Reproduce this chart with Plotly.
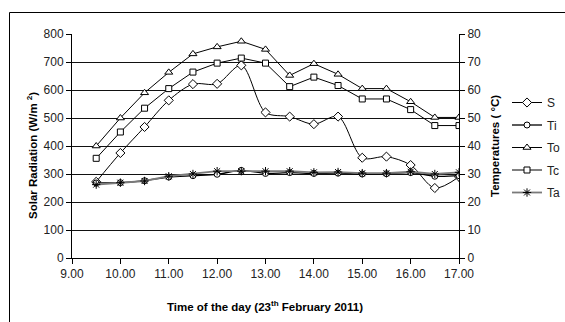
import plotly.graph_objects as go

time_h = [9.5, 10.0, 10.5, 11.0, 11.5, 12.0, 12.5, 13.0, 13.5, 14.0, 14.5, 15.0, 15.5, 16.0, 16.5, 17.0]
S  = [272, 375, 468, 563, 621, 622, 688, 520, 505, 478, 505, 358, 362, 332, 250, 290]
Ti = [26.8, 26.9, 27.6, 28.9, 29.4, 29.9, 31.3, 30.2, 30.5, 30.2, 30.3, 30.0, 30.1, 30.5, 29.2, 29.4]
To = [40.0, 50.0, 59.0, 66.3, 72.9, 75.4, 77.4, 74.5, 65.2, 69.4, 65.6, 60.5, 60.5, 55.8, 50.2, 50.2]
Tc = [35.6, 45.0, 53.5, 60.5, 66.4, 69.6, 71.4, 69.6, 61.2, 64.6, 61.6, 56.8, 56.8, 53.0, 47.3, 47.3]
Ta = [26.2, 26.9, 27.5, 29.2, 30.0, 31.0, 31.0, 31.0, 31.0, 30.6, 30.7, 30.3, 30.3, 30.8, 30.0, 30.6]

x_ticks = [9, 10, 11, 12, 13, 14, 15, 16, 17]

FONT = "Liberation Sans, Arial, sans-serif"

fig = go.Figure()

def add(name, y, symbol, size, yaxis, line_color="black", width=1, shape="linear", mcolor="white", mline="black"):
    fig.add_trace(go.Scatter(
        x=time_h, y=y, name=name, yaxis=yaxis, mode="lines+markers",
        line=dict(color=line_color, width=width, shape=shape, smoothing=0.9),
        marker=dict(symbol=symbol, size=size, color=mcolor, line=dict(color=mline, width=1)),
        legendgroup=name,
    ))

add("S", S, "diamond", 7, "y", shape="spline")
add("Ti", Ti, "circle", 6, "y2", width=1.3, shape="spline")
add("To", To, "triangle-up", 7, "y2")
add("Tc", Tc, "square", 6, "y2")
add("Ta", Ta, "asterisk", 7, "y2", line_color="#7a7a7a", width=1.8, mcolor="black", mline="black")

W, H = 565, 322
L, R, T, B = 72, 106, 34, 64
pw, ph = W - L - R, H - T - B

def px(xp):
    return (xp - L) / pw

def py(yp):
    return (H - B - yp) / ph

tickfont = dict(family=FONT, size=12, color="#222")

fig.update_layout(
    width=W, height=H,
    margin=dict(l=L, r=R, t=T, b=B, pad=0),
    paper_bgcolor="white", plot_bgcolor="white",
    font=dict(family=FONT, color="black"),
    showlegend=True,
    legend=dict(xref="container", yref="container", x=507 / W, y=1 - 88 / H,
                xanchor="left", yanchor="top",
                font=dict(family=FONT, size=12, color="#222"),
                tracegroupgap=3.5, itemwidth=30, bgcolor="rgba(0,0,0,0)"),
    xaxis=dict(range=[9, 17], tickvals=x_ticks, ticktext=[f"{v:.2f}" for v in x_ticks],
               showline=True, linecolor="black", linewidth=1, ticks="outside", ticklen=5,
               tickcolor="black", showgrid=False, zeroline=False, tickfont=tickfont),
    yaxis=dict(range=[0, 800], dtick=100, showline=True, linecolor="black", linewidth=1,
               ticks="outside", ticklen=5, tickcolor="black", showgrid=True,
               gridcolor="#111", gridwidth=1, zeroline=False, tickfont=tickfont),
    yaxis2=dict(range=[0, 80], dtick=10, overlaying="y", side="right", showline=True,
                linecolor="black", linewidth=1, ticks="outside", ticklen=5, tickcolor="black",
                showgrid=False, zeroline=False, tickfont=tickfont),
)

titlefont = dict(family=FONT, size=11.5, color="black")
fig.add_annotation(xref="paper", yref="paper", x=px(32), y=py(156), showarrow=False,
                   xanchor="center", yanchor="middle",
                   text="<b>Solar Radiation (W/m <sup>2</sup>)</b>", textangle=-90, font=titlefont)
fig.add_annotation(xref="paper", yref="paper", x=px(495), y=py(146), showarrow=False,
                   xanchor="center", yanchor="middle",
                   text="<b>Temperatures ( °C)</b>", textangle=-90, font=titlefont)
fig.add_annotation(xref="paper", yref="paper", x=px(265), y=py(306), showarrow=False,
                   xanchor="center", yanchor="middle",
                   text="<b>Time of the day (23<sup>th</sup> February 2011)</b>", font=titlefont)

# outer chart border (cropped in the reference)
fig.add_shape(type="line", xref="paper", yref="paper", x0=px(9.5), x1=px(9.5), y0=py(12.5), y1=py(330),
              line=dict(color="black", width=1))
fig.add_shape(type="line", xref="paper", yref="paper", x0=px(9.5), x1=px(570), y0=py(12.5), y1=py(12.5),
              line=dict(color="black", width=1))

fig.write_html("out.html")
